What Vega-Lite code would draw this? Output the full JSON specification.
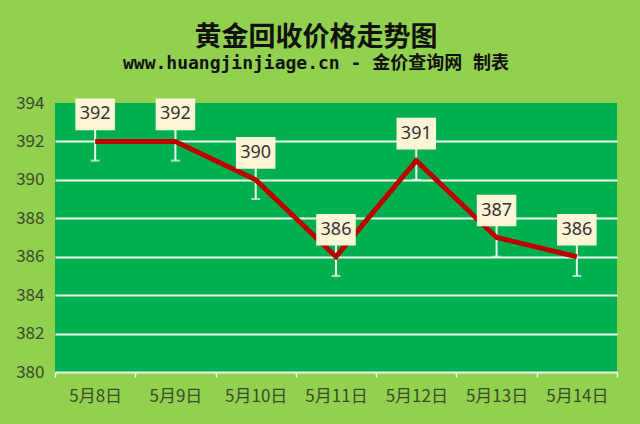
{
  "$schema": "https://vega.github.io/schema/vega-lite/v6.json",
  "width": 562,
  "height": 269,
  "autosize": {"type": "none"},
  "padding": {"left": 55, "top": 103, "right": 23, "bottom": 52},
  "background": "#92D050",
  "config": {
    "view": {"fill": "#00B050", "stroke": null},
    "font": "Noto Sans CJK SC"
  },
  "title": {
    "text": "黄金回收价格走势图",
    "subtitle": "www.huangjinjiage.cn - 金价查询网 制表",
    "anchor": "middle",
    "dx": -20,
    "font": "Noto Sans CJK SC",
    "fontSize": 27,
    "fontWeight": "bold",
    "color": "#111111",
    "subtitleFont": "DejaVu Sans Mono, Noto Sans CJK SC",
    "subtitleFontSize": 18,
    "subtitleFontWeight": "bold",
    "subtitleColor": "#111111",
    "subtitlePadding": 3,
    "offset": 20
  },
  "data": {
    "values": [
      {"date": "5月8日", "price": 392, "err": 1},
      {"date": "5月9日", "price": 392, "err": 1},
      {"date": "5月10日", "price": 390, "err": 1},
      {"date": "5月11日", "price": 386, "err": 1},
      {"date": "5月12日", "price": 391, "err": 1},
      {"date": "5月13日", "price": 387, "err": 1},
      {"date": "5月14日", "price": 386, "err": 1}
    ]
  },
  "encoding": {
    "x": {
      "field": "date",
      "type": "ordinal",
      "sort": null,
      "scale": {"type": "band", "paddingInner": 0, "paddingOuter": 0},
      "axis": {
        "title": null,
        "labelAngle": 0,
        "labelFontSize": 17,
        "labelColor": "#3B4A2C",
        "labelPadding": 11,
        "tickBand": "extent",
        "tickColor": "#F2F7F0",
        "tickSize": 5,
        "tickWidth": 1.5,
        "domainColor": "#F2F7F0",
        "domainWidth": 2,
        "grid": false
      }
    },
    "y": {
      "field": "price",
      "type": "quantitative",
      "scale": {"domain": [380, 394], "nice": false, "zero": false},
      "axis": {
        "title": null,
        "values": [380, 382, 384, 386, 388, 390, 392, 394],
        "labelFontSize": 17,
        "labelColor": "#3B4A2C",
        "labelPadding": 11,
        "ticks": false,
        "domain": false,
        "grid": true,
        "gridColor": "#F2F7F0",
        "gridWidth": 2,
        "gridOpacity": {"condition": {"test": "datum.value == 394 || datum.value == 380", "value": 0}, "value": 1}
      }
    }
  },
  "layer": [
    {
      "mark": {
        "type": "errorbar",
        "ticks": {"size": 9, "thickness": 2, "color": "#EEF5EE"},
        "rule": {"strokeWidth": 2, "color": "#EEF5EE"}
      },
      "encoding": {
        "yError": {"field": "err"}
      }
    },
    {
      "mark": {"type": "line", "color": "#BC0000", "strokeWidth": 5, "strokeCap": "butt"}
    },
    {
      "mark": {
        "type": "point",
        "shape": "M-1.25,-1 L1.25,-1 L1.25,1 L-1.25,1 Z",
        "size": 1000,
        "filled": true,
        "opacity": 1,
        "color": "#FDF5D6",
        "yOffset": -27
      }
    },
    {
      "mark": {
        "type": "text",
        "fontSize": 18,
        "color": "#333333",
        "font": "Noto Sans",
        "baseline": "middle",
        "yOffset": -27
      },
      "encoding": {"text": {"field": "price", "type": "quantitative"}}
    }
  ]
}
